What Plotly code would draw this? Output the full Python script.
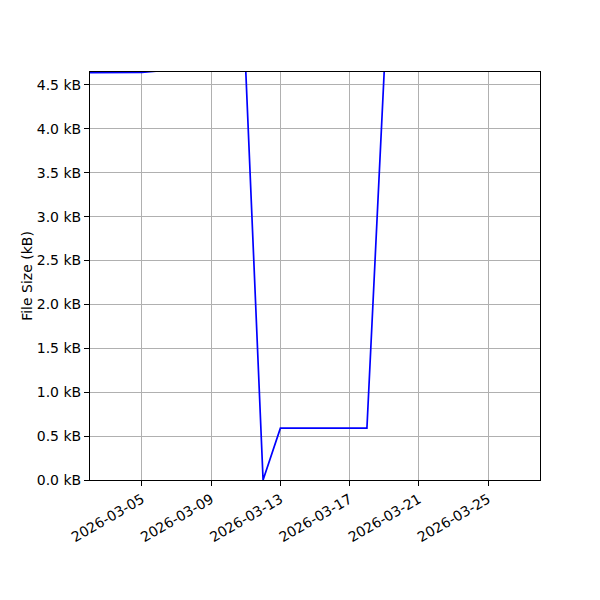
import plotly.graph_objects as go

# daily file size in kB (points above 4.65 run off the top of the plot)
dates = [
    "2026-03-02", "2026-03-03", "2026-03-04", "2026-03-05", "2026-03-06",
    "2026-03-07", "2026-03-08", "2026-03-09", "2026-03-10", "2026-03-11",
    "2026-03-12", "2026-03-13", "2026-03-14", "2026-03-15", "2026-03-16",
    "2026-03-17", "2026-03-18", "2026-03-19", "2026-03-20", "2026-03-21",
    "2026-03-22", "2026-03-23", "2026-03-24", "2026-03-25", "2026-03-26",
    "2026-03-27",
]
size_kb = [
    4.64, 4.64, 4.64, 4.642, 4.66,
    4.68, 4.68, 4.68, 4.68, 4.66,
    0.0, 0.59, 0.59, 0.59, 0.59,
    0.59, 0.59, 4.66, 4.7, 4.7,
    4.7, 4.7, 4.7, 4.7, 4.7,
    4.7,
]
x_ticks = ["2026-03-05", "2026-03-09", "2026-03-13", "2026-03-17", "2026-03-21", "2026-03-25"]

fig = go.Figure()
fig.add_trace(
    go.Scatter(
        x=dates,
        y=size_kb,
        mode="lines",
        line=dict(color="blue", width=1.7),
        showlegend=False,
    )
)

axis_common = dict(
    showline=True,
    linecolor="black",
    linewidth=1,
    mirror=True,
    showgrid=True,
    gridcolor="#b0b0b0",
    gridwidth=1,
    ticks="outside",
    ticklen=5,
    tickcolor="black",
    zeroline=False,
    tickfont=dict(family="DejaVu Sans", size=14, color="black"),
)

# page body adds an 8px offset, margins compensate for it
fig.update_layout(
    width=600, height=600,
    margin=dict(l=82, r=68, t=64, b=128),
    paper_bgcolor="white",
    plot_bgcolor="white",
    font=dict(family="DejaVu Sans", size=14, color="black"),
    xaxis=dict(
        range=["2026-03-02", "2026-03-28"],
        tickvals=x_ticks,
        tickformat="%Y-%m-%d",
        tickangle=-30,
        **axis_common,
    ),
    yaxis=dict(
        range=[0, 4.647],
        dtick=0.5,
        tick0=0,
        tickformat=".1f",
        ticksuffix=" kB",
        title=dict(text="File Size (kB)", font=dict(size=14), standoff=0),
        **axis_common,
    ),
)

fig.write_html("out.html")
